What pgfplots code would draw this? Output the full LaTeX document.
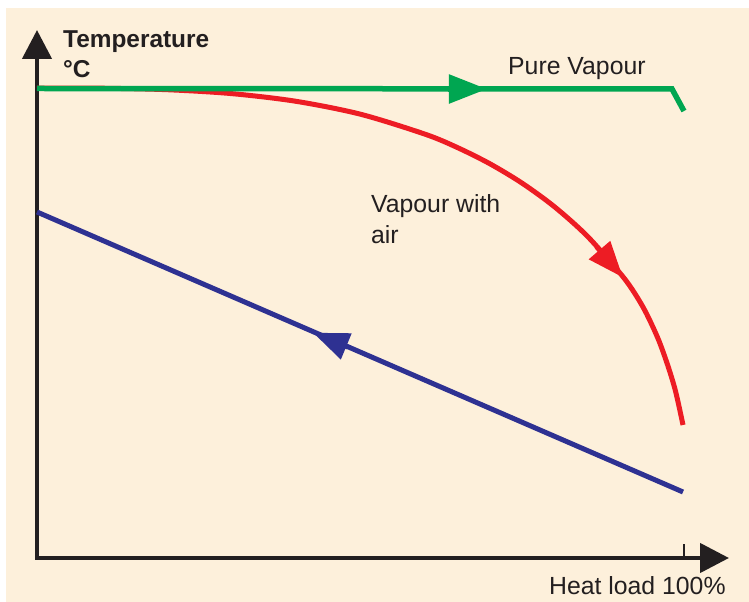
\documentclass[border=0pt]{standalone}
\usepackage{pgfplots}
\pgfplotsset{compat=1.18}
\usetikzlibrary{arrows.meta}
\usepackage{fontspec}
\setmainfont{Liberation Sans}
\definecolor{bgcream}{HTML}{FDF0DB}
\definecolor{ink}{HTML}{231F20}
\definecolor{cgreen}{HTML}{00A651}
\definecolor{cred}{HTML}{ED1C24}
\definecolor{cblue}{HTML}{2E3192}
\begin{document}
\begin{tikzpicture}
\fill[white] (-37bp,-44bp) rectangle (712bp,558bp);
\fill[bgcream] (-31bp,-44bp) rectangle (712bp,550bp);
\begin{axis}[
  at={(0,0)}, anchor=south west,
  scale only axis, width=692bp, height=528bp,
  xmin=0, xmax=106.96, ymin=0, ymax=112.46,
  axis lines*=left,
  axis line style={ink, line width=4.5bp, line cap=rect, -{Triangle[length=29bp,width=29bp]}},
  xtick={100}, xticklabels={}, ytick=\empty,
  tick align=inside, major tick length=14bp,
  every tick/.style={ink, line width=2.5bp},
  clip=false,
]
% Vapour with air (red)
\addplot[cred, line width=5bp, smooth] coordinates {
 (0,100.1) (10,100.06) (20,99.75) (30,98.92) (40,97.28) (50,94.52)
 (60,90.26) (65,87.41) (70,83.97) (75,79.82) (80,74.79) (85,68.63)
 (90,60.86) (92,57.2) (94,52.6) (96,46.7) (97.5,41.0) (98.7,35.5) (99.85,28.33)
};
\addplot[cred, line width=5bp, -{Triangle[length=36bp,width=27bp]}] coordinates {(86.5,66.29) (90.56,59.76)};
% blue
\addplot[cblue, line width=5bp] coordinates {(0,73.7) (99.85,14.06)};
\addplot[cblue, line width=5bp, -{Triangle[length=36bp,width=27bp]}] coordinates {(48.05,44.92) (42.66,47.99)};
% Pure vapour (green)
\addplot[cgreen, line width=5.5bp] coordinates {(0,100) (98.15,99.9) (100,95.2)};
\addplot[cgreen, line width=5.5bp, -{Triangle[length=38bp,width=28bp]}] coordinates {(63.5,99.89) (69.55,99.89)};
% texts
\node[anchor=base west, inner sep=0, text=ink, font=\bfseries\fontsize{24.4bp}{30bp}\selectfont] at (axis cs:4.02,108.63) {Temperature};
\node[anchor=base west, inner sep=0, text=ink, font=\bfseries\fontsize{24.4bp}{30bp}\selectfont] at (axis cs:4.02,102.24) {°C};
\node[anchor=base west, inner sep=0, text=ink, font=\fontsize{24.8bp}{30bp}\selectfont] at (axis cs:72.8,102.88) {Pure Vapour};
\node[anchor=base west, inner sep=0, text=ink, font=\fontsize{24.8bp}{30bp}\selectfont] at (axis cs:51.62,73.69) {Vapour with};
\node[anchor=base west, inner sep=0, text=ink, font=\fontsize{24.8bp}{30bp}\selectfont] at (axis cs:51.62,67.09) {air};
\node[anchor=base west, inner sep=0, text=ink, font=\fontsize{24.8bp}{30bp}\selectfont] at (axis cs:79.13,-7.88) {Heat load 100\%};
\end{axis}
\end{tikzpicture}
\end{document}
